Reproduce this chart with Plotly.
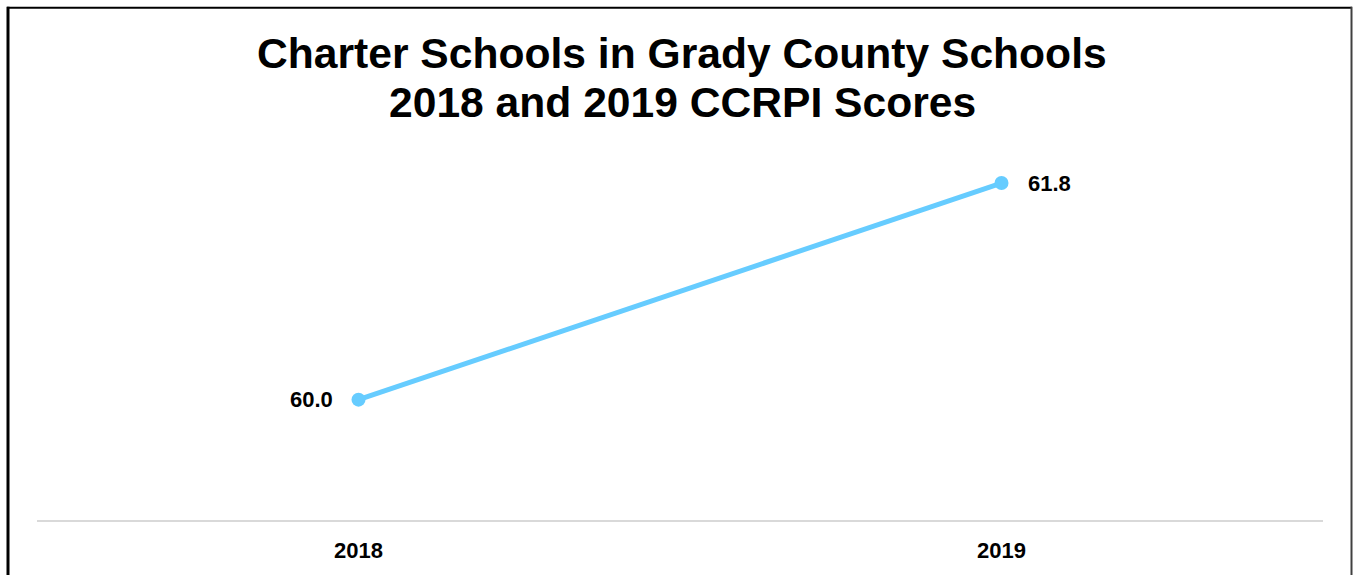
import plotly.graph_objects as go

years = ["2018", "2019"]
scores = [60.0, 61.8]
title_lines = ["Charter Schools in Grady County Schools", "2018 and 2019 CCRPI Scores"]

W, H = 1353, 575
ml, mr, mt, mb = 37, 30, 159, 51
FONT = "Liberation Sans, Arial"

fig = go.Figure()
fig.add_trace(go.Scatter(
    x=years, y=scores, mode="lines+markers",
    line=dict(color="#66CCFF", width=5),
    marker=dict(color="#66CCFF", size=14),
    cliponaxis=False, hoverinfo="skip", showlegend=False,
))

pw = W - ml - mr
ph = H - mt - mb
def px2x(px):
    return (px - ml) / pw
def py2y(py):
    return (H - mb - py) / ph

annotations = []
for i, v in enumerate(scores):
    annotations.append(dict(
        x=i, y=v, xref="x", yref="y", showarrow=False,
        text=f"<b>{v:.1f}</b>",
        xanchor="right" if i == 0 else "left",
        xshift=-24 if i == 0 else 24,
        font=dict(family=FONT, size=22, color="black"),
    ))
for line, cy in zip(title_lines, [52, 101]):
    annotations.append(dict(
        x=px2x(682), y=py2y(cy), xref="paper", yref="paper", showarrow=False,
        text=f"<b>{line}</b>", xanchor="center", yanchor="middle",
        font=dict(family=FONT, size=42.6, color="black"),
    ))

fig.update_layout(
    width=W, height=H,
    margin=dict(l=ml, r=mr, t=mt, b=mb),
    paper_bgcolor="white", plot_bgcolor="white",
    xaxis=dict(
        type="category", range=[-0.5, 1.5],
        showgrid=False, zeroline=False,
        showline=True, linecolor="#D9D9D9", linewidth=2,
        ticks="", tickfont=dict(family=FONT, size=22, color="black"),
        tickprefix="<b>", ticksuffix="</b>",
        ticklabelstandoff=10,
    ),
    yaxis=dict(range=[59, 62], visible=False, showgrid=False, zeroline=False),
    annotations=annotations,
    shapes=[
        dict(type="line", xref="paper", yref="paper",
             x0=px2x(8), x1=px2x(8), y0=py2y(5), y1=py2y(580),
             line=dict(color="black", width=3)),
        dict(type="line", xref="paper", yref="paper",
             x0=px2x(7), x1=px2x(1352), y0=py2y(6), y1=py2y(6),
             line=dict(color="black", width=2)),
        dict(type="line", xref="paper", yref="paper",
             x0=px2x(1351.5), x1=px2x(1351.5), y0=py2y(5), y1=py2y(580),
             line=dict(color="#404040", width=2)),
    ],
)

fig.write_html("out.html", config={"displayModeBar": False},
               post_script="document.body.style.margin='0px';")
